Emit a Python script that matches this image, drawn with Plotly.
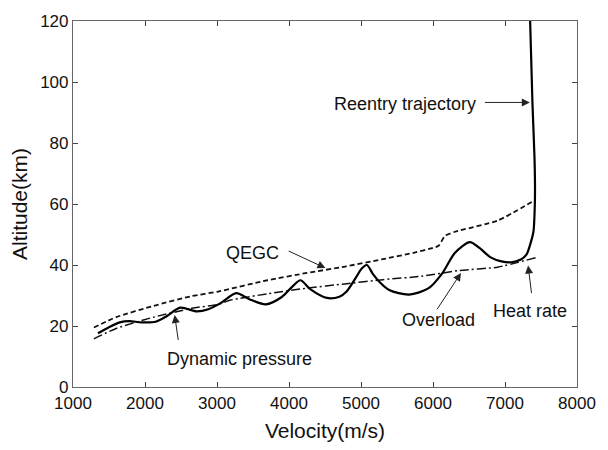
import plotly.graph_objects as go

# Reentry trajectory (solid)
traj_v = [1347, 1500, 1650, 1782, 1950, 2148, 2300, 2490, 2718, 2879, 3050, 3267,
          3450, 3678, 3900, 4050, 4158, 4300, 4524, 4700, 4800, 4935, 5004, 5082,
          5164, 5255, 5391, 5667, 5940, 6123, 6306, 6512, 6650, 6800, 6950, 7083,
          7220, 7300, 7349, 7395, 7412, 7417, 7410, 7381, 7349]
traj_h = [17.6, 19.6, 21.2, 21.6, 21.2, 21.4, 23.2, 26.0, 24.8, 25.5, 27.5, 30.8,
          28.8, 27.1, 29.5, 33.0, 35.0, 32.0, 29.2, 29.6, 31.3, 36.1, 38.7, 40.0,
          37.1, 34.5, 31.8, 30.3, 32.4, 37.1, 44.0, 47.5, 45.5, 42.5, 41.2, 40.9,
          41.8, 43.5, 46.7, 50.9, 58.0, 65.0, 75.0, 93.3, 120.0]

# QEGC (dashed)
qegc_v = [1290, 1600, 2120, 2650, 3016, 3700, 4250, 4780, 5300, 5730, 6000, 6077,
          6169, 6306, 6900, 7417]
qegc_h = [19.5, 22.9, 26.6, 29.8, 31.3, 35.0, 37.4, 39.5, 41.9, 44.0, 45.6, 46.3,
          49.6, 50.9, 54.6, 61.3]

# Constraint boundary (dash-dot): dynamic pressure / overload / heat rate
cons_v = [1290, 1600, 2120, 2650, 3016, 3190, 3715, 4245, 4776, 5306, 5836, 6367,
          6897, 7427]
cons_h = [15.8, 19.2, 22.9, 25.8, 27.1, 28.5, 30.6, 32.4, 33.8, 35.2, 36.3, 38.2,
          39.3, 42.4]

x_ticks = [1000, 2000, 3000, 4000, 5000, 6000, 7000, 8000]
y_ticks = [0, 20, 40, 60, 80, 100, 120]

# labels: text, text position, arrow tail, arrow head
labels = ["Reentry trajectory", "QEGC", "Dynamic pressure", "Overload", "Heat rate"]
label_pos = [(5607, 92.7), (3496, 44.1), (3317, 9.2), (6083, 21.9), (7342, 25.0)]
arrow_tail = [(6700, 93.3), (3975, 44.8), (2465, 14.9), (6043, 25.0), (7371, 30.3)]
arrow_head = [(7345, 93.3), (4506, 39.0), (2412, 23.6), (6389, 37.4), (7321, 39.8)]

FONT = "Liberation Sans, Arial, sans-serif"

fig = go.Figure()
fig.add_trace(go.Scatter(x=qegc_v, y=qegc_h, mode="lines",
                         line=dict(color="#111", width=1.8, dash="5px,3px", shape="spline", smoothing=0.6),
                         showlegend=False))
fig.add_trace(go.Scatter(x=cons_v, y=cons_h, mode="lines",
                         line=dict(color="#111", width=1.5, dash="9px,3px,2px,3px", shape="spline", smoothing=0.6),
                         showlegend=False))
fig.add_trace(go.Scatter(x=traj_v, y=traj_h, mode="lines",
                         line=dict(color="#000", width=2.2, shape="spline", smoothing=0.8),
                         showlegend=False))

for txt, (tx, ty), (ax, ay), (hx, hy) in zip(labels, label_pos, arrow_tail, arrow_head):
    fig.add_annotation(x=tx, y=ty, xref="x", yref="y", text=txt, showarrow=False,
                       font=dict(family=FONT, size=18, color="#111"))
    fig.add_annotation(x=hx, y=hy, ax=ax, ay=ay, xref="x", yref="y", axref="x", ayref="y",
                       text="", showarrow=True, arrowhead=2, arrowsize=1.6, arrowwidth=1,
                       arrowcolor="#222", standoff=0, startstandoff=0)

axis_common = dict(showgrid=False, zeroline=False, showline=True, linecolor="#666",
                   linewidth=1.2, mirror="allticks", ticks="inside", ticklen=5,
                   tickcolor="#444", tickfont=dict(family=FONT, size=17, color="#111"))

fig.update_xaxes(range=[1000, 8000], tickvals=x_ticks, ticktext=[str(v) for v in x_ticks],
                 title=dict(text="Velocity(m/s)", font=dict(family=FONT, size=21, color="#111"), standoff=11),
                 **axis_common)
fig.update_yaxes(range=[0, 120], tickvals=y_ticks, ticktext=[str(v) for v in y_ticks],
                 title=dict(text="Altitude(km)", font=dict(family=FONT, size=21, color="#111"), standoff=6),
                 **axis_common)

fig.update_layout(width=608, height=450, margin=dict(l=73, r=24, t=19, b=53),
                  plot_bgcolor="white", paper_bgcolor="white")

fig.write_html("out.html")
